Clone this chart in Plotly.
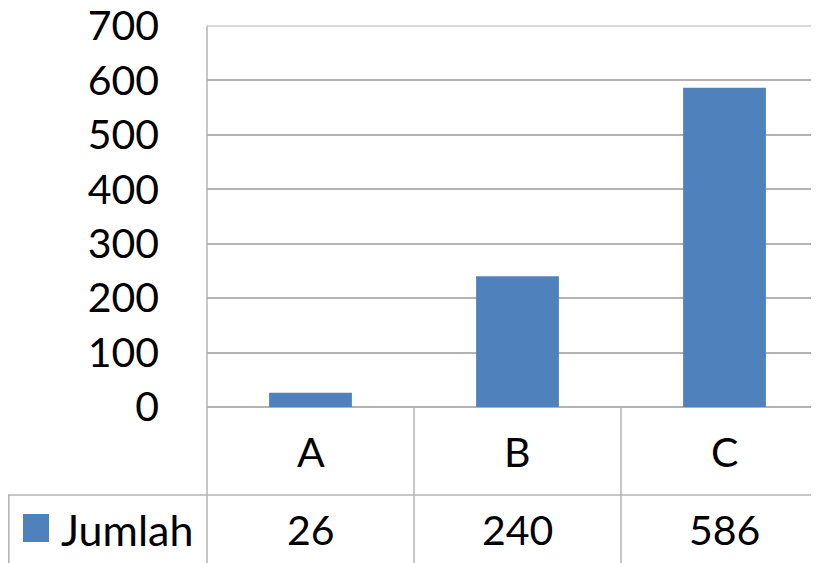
import plotly.graph_objects as go

categories = ["A", "B", "C"]
jumlah = [26, 240, 586]
series_name = "Jumlah"
y_ticks = [0, 100, 200, 300, 400, 500, 600, 700]

# The page body has an 8px margin; the figure is sized to fill the rest of the window.
OFF = 8
W, H = 819 - OFF, 563 - OFF
FONT = "Lato"
FS = 41
BAR = "#4f81bd"
GRID = "#b3b3b3"


def px(x):
    return max(0.0, (x - OFF) / W)


def py(y):
    return min(1.0, max(0.0, 1 - (y - OFF) / H))


fig = go.Figure(
    go.Bar(
        x=categories,
        y=jumlah,
        width=0.4,
        marker=dict(color=BAR, line=dict(width=0)),
        showlegend=False,
        name=series_name,
    )
)

cat_w = 207.0
x_left = 207.0
x_end = -0.5 + (819 - x_left) / cat_w

fig.update_layout(
    width=W,
    height=H,
    autosize=False,
    margin=dict(l=0, r=0, t=0, b=0, pad=0),
    paper_bgcolor="white",
    plot_bgcolor="white",
    font=dict(family=FONT, size=FS, color="black"),
    xaxis=dict(
        type="category",
        domain=[px(x_left), 1],
        range=[-0.5, x_end],
        showticklabels=False,
        showgrid=False,
        zeroline=False,
        showline=False,
        ticks="",
        automargin=False,
    ),
    yaxis=dict(
        domain=[py(407), py(25.5)],
        range=[0, 700.5],
        tickvals=y_ticks,
        ticktext=[str(v) for v in y_ticks],
        showgrid=True,
        gridcolor=GRID,
        gridwidth=1.5,
        zeroline=True,
        zerolinecolor=GRID,
        zerolinewidth=1.5,
        showline=False,
        ticks="",
        ticklabelstandoff=47,
        ticklabeloverflow="allow",
        automargin=False,
        tickfont=dict(family=FONT, size=FS, color="black"),
    ),
)

line = dict(color=GRID, width=1.5)
shapes = [
    # top gridline (at the last tick value), which plotly skips at the plot edge
    dict(type="line", xref="paper", yref="y", x0=px(207), x1=1, y0=y_ticks[-1], y1=y_ticks[-1], line=line),
    dict(type="line", xref="paper", yref="paper", x0=px(207), x1=px(207), y0=py(26), y1=0, line=line),
    dict(type="line", xref="paper", yref="paper", x0=px(7), x1=1, y0=py(495), y1=py(495), line=line),
    dict(type="line", xref="paper", yref="paper", x0=0.001, x1=0.001, y0=py(495), y1=0, line=line),
    dict(type="rect", xref="paper", yref="paper", x0=px(23), x1=px(49), y0=py(542), y1=py(514),
         fillcolor=BAR, line=dict(width=0)),
]
for i in range(len(categories) - 1):
    shapes.append(dict(type="line", xref="x", yref="paper", x0=i + 0.5, x1=i + 0.5,
                       y0=py(407), y1=0, line=line))

annotations = []
for c, v in zip(categories, jumlah):
    annotations.append(dict(x=c, xref="x", y=py(451), yref="paper", text=c, showarrow=False,
                            xanchor="center", yanchor="middle", font=dict(family=FONT, size=FS, color="black")))
    annotations.append(dict(x=c, xref="x", y=py(529), yref="paper", text=str(v), showarrow=False,
                            xanchor="center", yanchor="middle", font=dict(family=FONT, size=FS, color="black")))
annotations.append(dict(x=px(59), xref="paper", y=py(529), yref="paper", text=series_name, showarrow=False,
                        xanchor="left", yanchor="middle", font=dict(family=FONT, size=43, color="black")))

fig.update_layout(shapes=shapes, annotations=annotations)
fig.write_html("out.html")
